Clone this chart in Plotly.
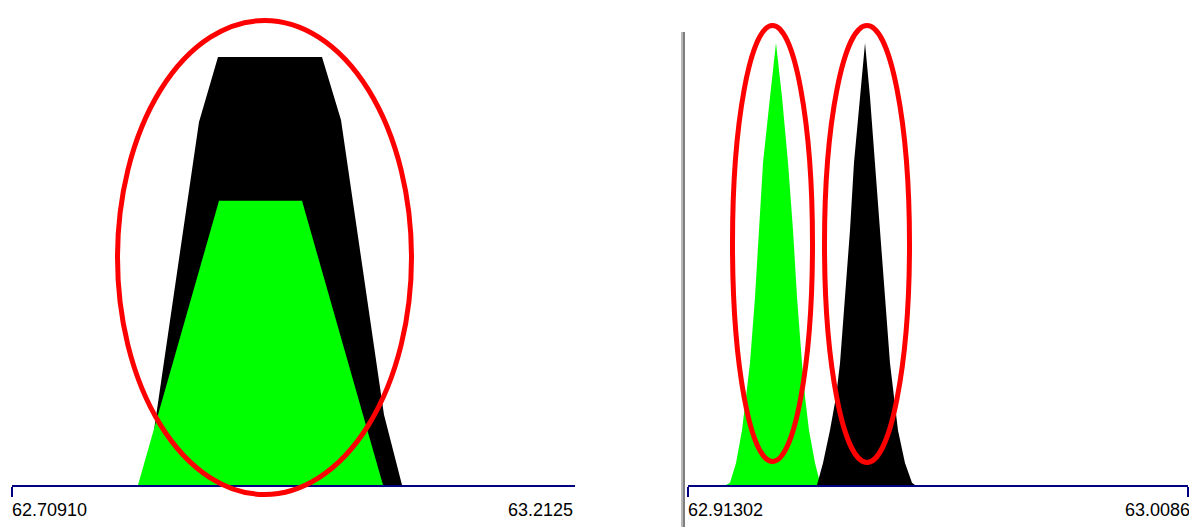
import plotly.graph_objects as go

W, H = 1189, 527

# ---------------- data ----------------
# Left panel: m/z axis ends and profile peaks (relative intensity, black top = 100)
left_axis_min = 62.70910
left_axis_tick_right = 63.21252
left_axis_max = 63.21612
left_labels = ["62.70910", "63.2125"]

left_black_mz = [62.82978, 62.87751, 62.89462, 62.98828, 63.00539, 63.04411, 63.06032]
left_black_int = [0.0, 84.8, 100.0, 100.0, 85.3, 16.4, 0.0]

left_green_mz = [62.82257, 62.89552, 62.97027, 63.04321]
left_green_int = [0.0, 66.4, 66.4, 0.0]

# Right panel
right_axis_min = 62.91302
right_axis_max = 63.00860
right_labels = ["62.91302", "63.00860"]

right_green_mz = [62.92028, 62.92105, 62.92220, 62.92334, 62.92411, 62.92487, 62.92583,
                  62.92659, 62.92736, 62.92870, 62.92984, 62.93099, 62.93214, 62.93309,
                  62.93386, 62.93481, 62.93539, 62.93615, 62.93730, 62.93825, 62.93902]
right_green_int = [0.0, 0.5, 5.0, 12.4, 19.9, 27.6, 42.5, 57.7, 72.9, 87.8, 100.0,
                   87.8, 72.9, 57.7, 42.5, 27.6, 19.9, 12.4, 5.0, 0.5, 0.0]

right_black_mz = [62.93768, 62.93883, 62.94016, 62.94131, 62.94208, 62.94303, 62.94399,
                  62.94475, 62.94590, 62.94686, 62.94781, 62.94877, 62.94972, 62.95068,
                  62.95163, 62.95240, 62.95316, 62.95450, 62.95584, 62.95641]
right_black_int = [0.0, 5.0, 12.4, 19.9, 27.6, 42.5, 57.7, 72.9, 87.8, 100.0,
                   87.8, 72.9, 57.7, 42.5, 27.6, 19.9, 12.4, 5.0, 0.5, 0.0]

# ---------------- figure ----------------
NAVY = "#000080"
GREEN = "#00ff00"
BLACK = "#000000"

def px(xp):
    return xp / W

def py(yp):
    return (H - yp) / H

fig = go.Figure()

fig.add_trace(go.Scatter(x=left_black_mz, y=left_black_int, xaxis="x", yaxis="y",
                         mode="lines", line=dict(width=0, color=BLACK),
                         fill="tozeroy", fillcolor=BLACK, hoverinfo="skip", showlegend=False))
fig.add_trace(go.Scatter(x=left_green_mz, y=left_green_int, xaxis="x", yaxis="y",
                         mode="lines", line=dict(width=0, color=GREEN),
                         fill="tozeroy", fillcolor=GREEN, hoverinfo="skip", showlegend=False))
fig.add_trace(go.Scatter(x=right_green_mz, y=right_green_int, xaxis="x2", yaxis="y2",
                         mode="lines", line=dict(width=0, color=GREEN),
                         fill="tozeroy", fillcolor=GREEN, hoverinfo="skip", showlegend=False))
fig.add_trace(go.Scatter(x=right_black_mz, y=right_black_int, xaxis="x2", yaxis="y2",
                         mode="lines", line=dict(width=0, color=BLACK),
                         fill="tozeroy", fillcolor=BLACK, hoverinfo="skip", showlegend=False))

base_y_domain = [py(485), 1.0]

axis_common = dict(showline=True, linecolor=NAVY, linewidth=2, ticks="outside",
                   ticklen=10, tickwidth=2, tickcolor=NAVY, showticklabels=False,
                   showgrid=False, zeroline=False, fixedrange=True)

fig.update_layout(
    width=W, height=H,
    margin=dict(l=0, r=0, t=0, b=0),
    paper_bgcolor="white", plot_bgcolor="white",
    xaxis=dict(domain=[px(12), px(575)], range=[left_axis_min, left_axis_max],
               tickvals=[left_axis_min], anchor="y", **axis_common),
    yaxis=dict(domain=base_y_domain, range=[0, 485 / 4.28], visible=False, fixedrange=True),
    xaxis2=dict(domain=[px(688), px(1188)], range=[right_axis_min, right_axis_max],
                tickvals=[right_axis_min, right_axis_max], anchor="y2", **axis_common),
    yaxis2=dict(domain=base_y_domain, range=[0, 485 / 4.42], visible=False,
                anchor="x2", fixedrange=True),
)

label_font = dict(family="Liberation Sans, Arial, sans-serif", size=18, color="#000000")
label_y = py(510)
fig.add_annotation(x=left_axis_min, xref="x", y=label_y, yref="paper", text=left_labels[0],
                   showarrow=False, xanchor="left", yanchor="middle", font=label_font, xshift=-2)
fig.add_annotation(x=left_axis_tick_right, xref="x", y=label_y, yref="paper", text=left_labels[1],
                   showarrow=False, xanchor="left", yanchor="middle", font=label_font, xshift=-65)
fig.add_annotation(x=right_axis_min, xref="x2", y=label_y, yref="paper", text=right_labels[0],
                   showarrow=False, xanchor="left", yanchor="middle", font=label_font, xshift=-2)
fig.add_annotation(x=right_axis_max, xref="x2", y=label_y, yref="paper", text=right_labels[1],
                   showarrow=False, xanchor="left", yanchor="middle", font=label_font, xshift=-65)

# Separator line between panels
fig.add_shape(type="line", xref="paper", yref="paper", x0=px(682), x1=px(682),
              y0=py(32), y1=0, line=dict(color="#b8b8b8", width=2))
fig.add_shape(type="line", xref="paper", yref="paper", x0=px(684), x1=px(684),
              y0=py(32), y1=0, line=dict(color="#555555", width=1.5))

# Red highlight ellipses
ellipses = [(117.5, 411.5, 20.5, 494.5), (732.5, 812.5, 25.5, 461.5), (824.5, 909.5, 25.5, 462.5)]
for x0, x1, y0, y1 in ellipses:
    fig.add_shape(type="circle", xref="paper", yref="paper",
                  x0=px(x0), x1=px(x1), y0=py(y1), y1=py(y0),
                  line=dict(color="#ff0000", width=5), fillcolor="rgba(0,0,0,0)")

fig.write_html("out.html", config={"displayModeBar": False, "staticPlot": True},
               post_script="document.body.style.margin='0';document.body.style.overflow='hidden';")
